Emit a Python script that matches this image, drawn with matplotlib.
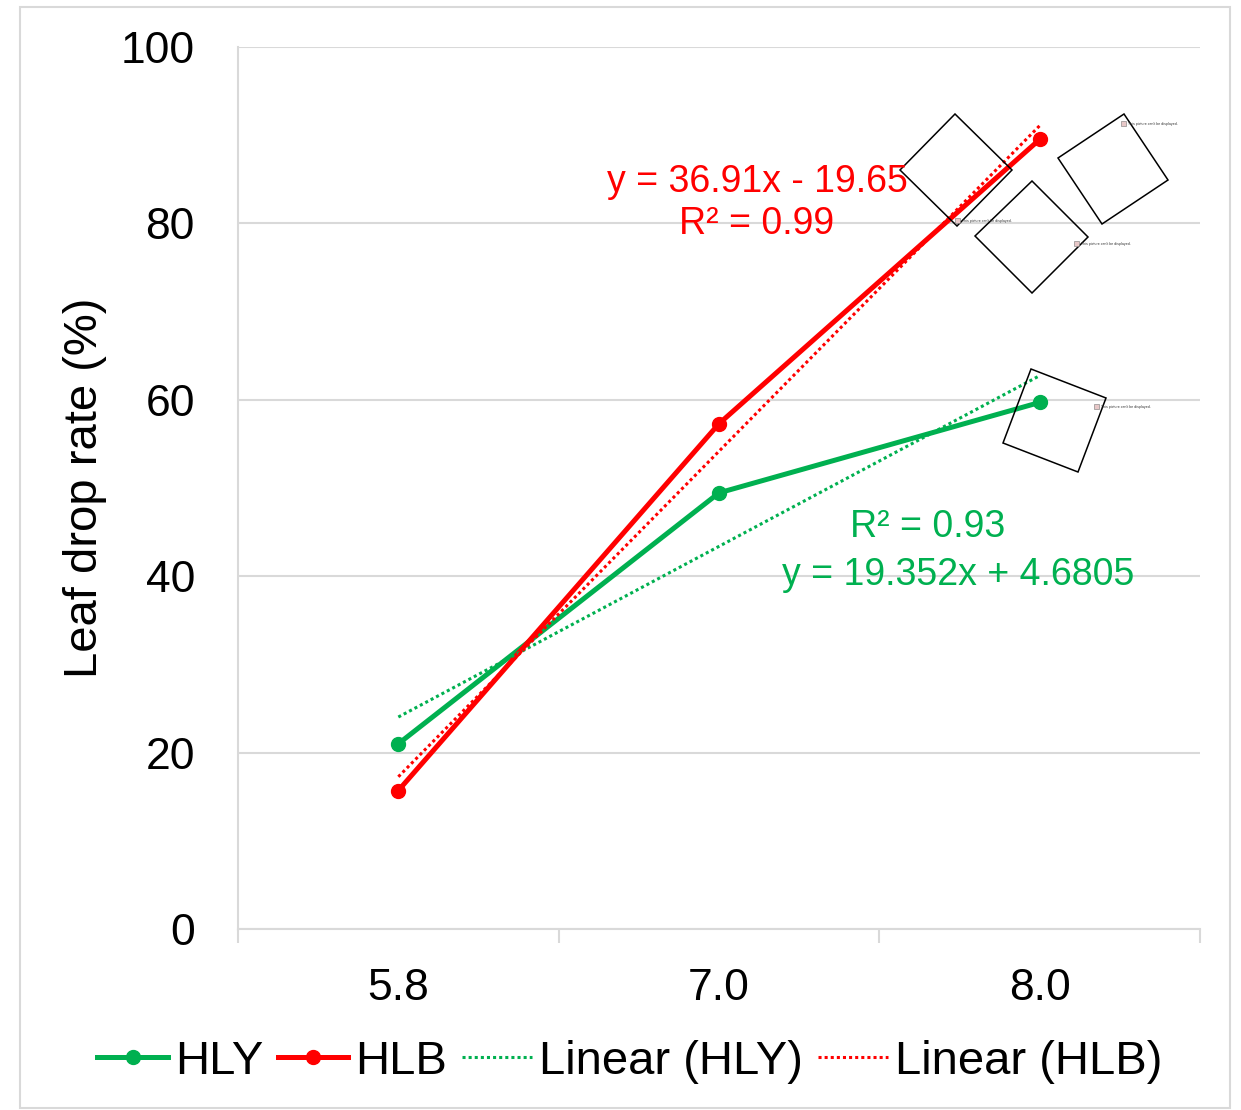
import matplotlib
matplotlib.use("Agg")
import matplotlib.pyplot as plt
from matplotlib.patches import Polygon, Rectangle
import numpy as np

plt.rcParams['font.family'] = ['Liberation Sans', 'DejaVu Sans']

# data
categories = ["5.8", "7.0", "8.0"]
hly = [21.0, 49.45, 59.70]
hlb = [15.7, 57.29, 89.52]

# trendline coefficients (slope, intercept, R²) on category index
hly_fit = (19.352, 4.6805, 0.93)
hlb_fit = (36.91, -19.65, 0.99)

GREEN = "#00B050"
RED = "#FF0000"
GRID = "#D9D9D9"

W, H = 1241, 1110
fig = plt.figure(figsize=(W / 100, H / 100), dpi=100)
ax = fig.add_axes([238 / W, 1 - 929 / H, (1200 - 238) / W, (929 - 47) / H])

x = np.arange(1, len(categories) + 1)

ax.plot(x, hly, color=GREEN, lw=3.6, marker="o", ms=10, label="HLY", zorder=3)
ax.plot(x, hlb, color=RED, lw=3.6, marker="o", ms=10, label="HLB", zorder=3)

for name, (m, b, _), col in (("HLY", hly_fit, GREEN), ("HLB", hlb_fit, RED)):
    ax.plot(x, m * x + b, color=col, lw=2.2, ls=(0, (1, 1)),
            label=f"Linear ({name})", zorder=4)

ax.set_xlim(0.5, 3.5)
ax.set_ylim(0, 100)
ax.set_yticks(range(0, 101, 20))
ax.set_xticks(x)
ax.set_xticklabels(categories)
ax.set_xticks([0.5, 1.5, 2.5, 3.5], minor=True)
ax.tick_params(axis="x", which="major", length=0, pad=28, labelsize=32)
ax.tick_params(axis="x", which="minor", length=10, width=1.5, color=GRID)
ax.tick_params(axis="y", length=0, pad=31, labelsize=32)
ax.grid(axis="y", color=GRID, lw=1.5)
ax.set_axisbelow(True)
for s in ("top", "right"):
    ax.spines[s].set_visible(False)
ax.spines["left"].set_color(GRID)
ax.spines["left"].set_linewidth(1.5)
ax.spines["bottom"].set_color(GRID)
ax.spines["bottom"].set_linewidth(1.5)

ax.set_ylabel("Leaf drop rate (%)", fontsize=34, labelpad=10)

# trendline equations
m, b, r2 = hlb_fit
fig.text(757 / W, 1 - 182 / H, f"y = {m:.2f}x - {abs(b):.2f}", color=RED,
         fontsize=27, ha="center", va="center")
fig.text(757 / W, 1 - 224 / H, f"R² = {r2:.2f}", color=RED,
         fontsize=27, ha="center", va="center")
m, b, r2 = hly_fit
fig.text(928 / W, 1 - 527 / H, f"R² = {r2:.2f}", color=GREEN,
         fontsize=27, ha="center", va="center")
fig.text(958 / W, 1 - 575 / H, f"y = {m:.3f}x + {b:.4f}", color=GREEN,
         fontsize=27, ha="center", va="center")

# broken picture placeholders
boxes = [
    [(955, 114), (1012, 170), (957, 226), (900, 170)],
    [(1032, 181), (1088, 237), (1032, 293), (975, 236)],
    [(1124, 114), (1168, 180), (1102, 224), (1058, 158)],
    [(1031, 369), (1106, 398), (1078, 472), (1003, 443)],
]
notes = [(962, 221), (1081, 244), (1128, 124), (1101, 407)]
for corners, (tx, ty) in zip(boxes, notes):
    pts = [(px / W, 1 - py / H) for px, py in corners]
    fig.add_artist(Polygon(pts, closed=True, fill=False, ec="black", lw=1.1,
                           transform=fig.transFigure))
    fig.add_artist(Rectangle(((tx - 7) / W, 1 - (ty + 2) / H), 5 / W, 5 / H,
                             fc="#E8C8C8", ec="#777777", lw=0.4,
                             transform=fig.transFigure))
    fig.text(tx / W, 1 - ty / H, "This picture can't be displayed.",
             fontsize=2.6, color="#333333", va="center")

leg = fig.legend(loc="center", bbox_to_anchor=(630 / W, 1 - 1062 / H),
                 ncol=4, frameon=False, fontsize=34, handlelength=1.5,
                 handletextpad=0.15, columnspacing=0.3, borderpad=0,
                 borderaxespad=0)

# outer chart frame
fig.add_artist(Rectangle((20 / W, 1 - 1108 / H), 1210 / W, 1101 / H,
                         fill=False, ec=GRID, lw=1.5, transform=fig.transFigure))

fig.savefig("out.png", dpi=100)
